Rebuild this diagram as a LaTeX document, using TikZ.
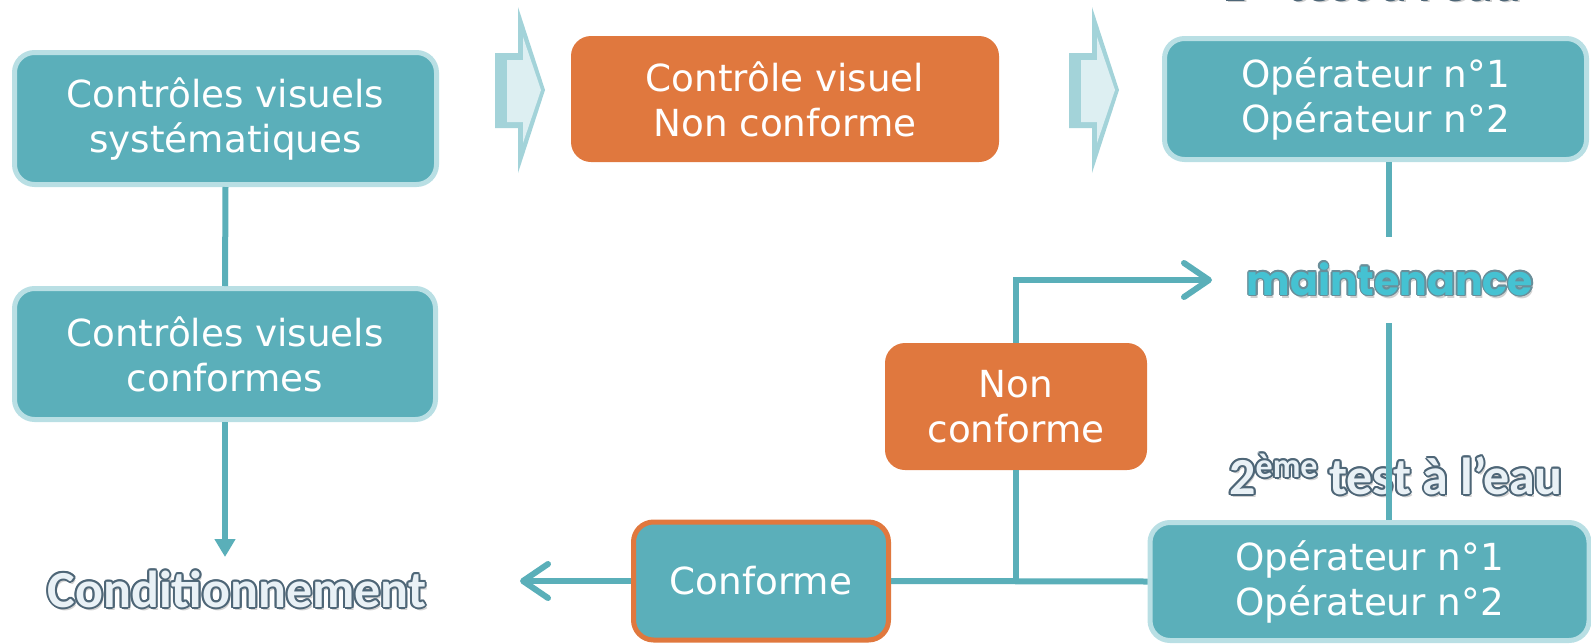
\documentclass[tikz,border=0pt]{standalone}
\usepackage{fontspec}
\setmainfont{DejaVu Sans}
\newfontfamily\headfont{Carlito}
\newfontfamily\roundfont{Poppins}
\usetikzlibrary{arrows.meta}

\definecolor{boxteal}{HTML}{5BAFBA}
\definecolor{boxrim}{HTML}{B9DFE4}
\definecolor{boxorange}{HTML}{E0783E}
\definecolor{linkteal}{HTML}{5AAFB9}
\definecolor{arrowrim}{HTML}{A3D3D9}
\definecolor{arrowfill}{HTML}{DDEFF2}
\definecolor{titlefill}{HTML}{E9F1F6}
\definecolor{titlerim}{HTML}{4E6677}
\definecolor{maintfill}{HTML}{45C2D2}
\definecolor{maintrim}{HTML}{6A8E99}

% outlined heading: name, position, font, fill colour, rim colour, rim radius, text
\newcommand\rimtext[7]{%
  \node[font=#3, text=black, opacity=0.18, anchor=base, inner sep=0pt]
    at ([shift={(2,3)}]#2) {#7};
  \foreach \ang in {0,30,...,330}
    \node[font=#3, text=#5, anchor=base, inner sep=0pt]
      at ([shift={(\ang:#6)}]#2) {#7};
  \node[font=#3, text=#4, anchor=base, inner sep=0pt] (#1) at (#2) {#7};
}
\newcommand\headsize{\headfont\bfseries\fontsize{52}{52}\selectfont}
\newcommand\ordinal[1]{\raisebox{17pt}{\fontsize{34}{34}\selectfont #1}}

\begin{document}
\begin{tikzpicture}[x=1pt, y=-1pt,
  boxtext/.style={text=white, font=\fontsize{37.3}{45}\selectfont, align=center,
    inner sep=0pt, rounded corners=20pt},
  tealbox/.style={boxtext, fill=boxteal, draw=boxrim, line width=5pt},
  orangebox/.style={boxtext, fill=boxorange},
  link/.style={draw=linkteal, line width=6pt},
  barb/.style={link, -{Straight Barb[round, length=25pt, width=34pt]}},
]
\useasboundingbox (0,0) rectangle (1591,643);

% block arrows between the top boxes
\foreach \dx in {0,574} {
  \begin{scope}[shift={(\dx,0)}]
    \fill[arrowrim] (495,53) -- (518,53) -- (518,7) -- (545,90) -- (518,173)
      -- (518,128) -- (495,128) -- cycle;
    \fill[arrowfill] (507,60) -- (523,60) -- (523,37) -- (541,90) -- (523,143)
      -- (523,122) -- (507,122) -- cycle;
  \end{scope}
}

% boxes
\node[tealbox, minimum width=422pt, minimum height=132pt] (sys) at (225.5,118.5)
  {Contrôles visuels\\systématiques};
\node[tealbox, minimum width=421pt, minimum height=131pt] (conf) at (225,354)
  {Contrôles visuels\\conformes};
\node[orangebox, minimum width=428pt, minimum height=126pt] (cvnc) at (785,99)
  {Contrôle visuel\\Non conforme};
\node[tealbox, minimum width=422pt, minimum height=121pt] (opA) at (1375.5,99)
  {Opérateur n°1\\Opérateur n°2};
\node[orangebox, minimum width=262pt, minimum height=127pt] (nc) at (1016,406.5)
  {Non\\conforme};
\node[tealbox, draw=boxorange, minimum width=255pt, minimum height=118pt] (ok) at (761,581)
  {Conforme};
\node[tealbox, minimum width=439pt, minimum height=118pt] (opB) at (1369.5,581.5)
  {Opérateur n°1\\Opérateur n°2};

% headings
\rimtext{cond}{237,607}{\headsize}{titlefill}{titlerim}{2.0}{Conditionnement}
\rimtext{testA}{1371,-1}{\headsize}{titlefill}{titlerim}{2.0}{1\ordinal{er} test à l’eau}
\rimtext{testB}{1396,494}{\headsize}{titlefill}{titlerim}{2.0}{2\ordinal{ème} test à l’eau}
\rimtext{maint}{1390,295}{\roundfont\bfseries\fontsize{41}{41}\selectfont}{maintfill}{maintrim}{1.5}{maintenance}

% gap kept around the maintenance label on the vertical line
\node[minimum width=10pt, minimum height=86pt, inner sep=0pt] (mgap) at (1389,280) {};
\coordinate (mtip) at (1212,280);
\coordinate (condtip) at (225,557);
\coordinate (oktip) at (520,581);

% connectors
\draw[link] (sys.south) -- (conf.north);
\draw[link, -{Triangle[length=18pt, width=20pt]}] (conf.south) -- (condtip);
\draw[link] (opA.south -| mgap.north) -- (mgap.north);
\draw[link] (mgap.south) -- (mgap.south |- opB.north);
\draw[barb] (nc.north) |- (mtip);
\draw[link] (nc.south) -- (nc.south |- ok.east);
\draw[link] (opB.west) -- (ok.east);
\draw[barb] (ok.west) -- (oktip);
\end{tikzpicture}
\end{document}
